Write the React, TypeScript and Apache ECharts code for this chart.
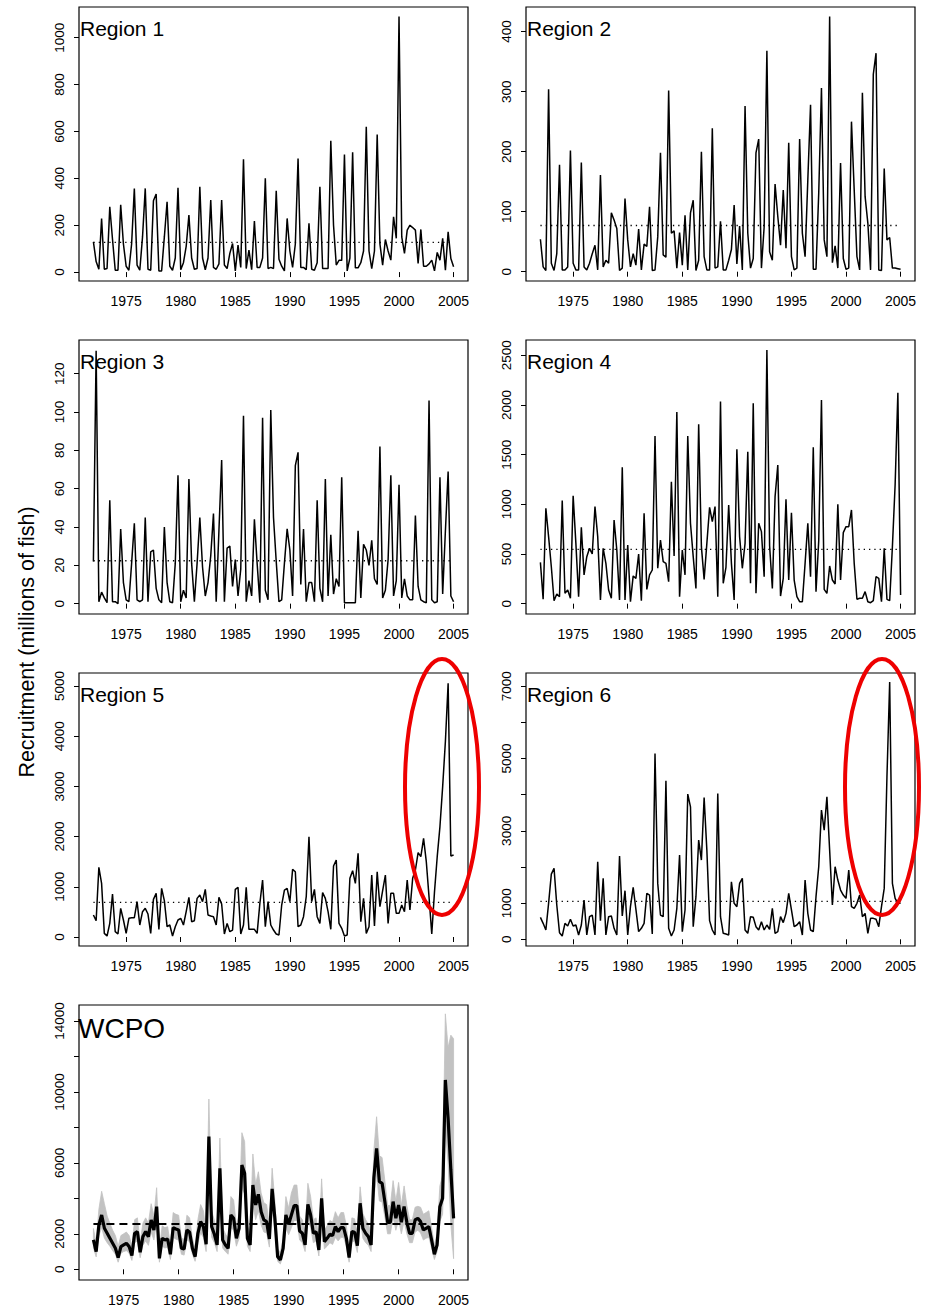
import React, { useEffect, useRef } from "react";
import * as echarts from "echarts";

// ---------- data ----------
const REGION_START = 1972.0; // first quarter of regional series
const WCPO_START = 1972.25; // first quarter of WCPO series
const QUARTER = 0.25;
const MEAN_START = 1972.0;
const MEAN_END = 2004.75;

const YEAR_TICKS = [1975, 1980, 1985, 1990, 1995, 2000, 2005];

const REGION1 = [129,45,12,229,12,15,279,140,8,8,287,120,25,8,120,356,30,8,150,357,12,8,304,333,5,5,150,300,25,8,60,360,10,40,110,243,60,12,15,364,60,10,60,307,20,12,35,307,30,15,80,122,5,115,20,481,15,94,10,218,20,20,60,400,15,20,15,347,55,25,5,229,90,20,120,485,20,20,10,208,12,8,40,364,15,15,15,560,200,30,50,50,502,5,60,511,18,18,40,90,620,90,15,90,587,120,30,139,90,51,236,144,1090,150,80,179,200,190,179,37,182,25,25,35,51,5,84,51,144,8,172,58,23];
const REGION2 = [54,8,2,304,14,2,30,178,3,3,8,202,14,3,3,182,8,3,14,30,44,3,161,8,19,14,98,86,72,2,6,122,53,8,30,11,71,3,46,42,108,2,3,58,198,28,24,302,64,68,6,65,11,94,3,98,119,2,19,200,25,3,3,239,6,8,84,3,3,19,37,111,13,76,3,276,64,6,22,198,221,6,75,368,33,19,146,92,44,136,39,215,25,3,6,221,64,25,153,278,4,4,131,306,53,25,425,15,43,6,181,22,4,6,250,136,25,3,298,125,81,3,329,364,3,2,172,53,57,6,6,5,4];
const REGION3 = [22,132,1,6,3,0.5,54,1,1,0,39,11,2,1,21,42,2,1,2,45,1,27,28,8,2,0.5,40,11,1,0.5,21,67,1,7,3,65,21,1,21,45,19,4,11,25,47,1,38,75,1,29,30,9,23,4,18,98,1,12,4,44,21,0.5,97,7,2,101,45,22,1,2,21,39,28,4,72,79,10,39,1,11,11,1,54,8,1,65,4,36,5,13,9,66,0.5,0.5,0.5,0.5,0.5,38,3,31,28,20,33,13,10,82,3,7,23,67,4,12,62,3,13,4,2,2,46,9,2,1,0.5,106,2,0.5,1,66,5,38,69,4,1];
const REGION4 = [416,44,960,675,372,30,97,70,1037,104,138,54,1087,607,70,768,289,473,557,500,977,675,37,557,406,138,54,842,540,37,1372,37,591,20,279,255,500,30,909,144,289,339,1688,356,641,423,406,221,1228,480,1930,70,540,289,1688,809,473,154,1805,574,245,607,970,826,977,70,2034,205,366,993,406,37,1554,675,356,607,1530,205,2017,104,809,725,272,2554,581,154,1077,1396,77,255,1050,238,916,238,70,20,20,406,809,272,1574,121,634,2050,144,104,379,238,198,1000,238,715,775,775,943,406,44,54,54,121,20,10,30,272,255,20,557,44,30,574,1200,2124,87];
const REGION5 = [438,325,1388,1069,73,20,272,857,106,60,571,339,73,372,385,385,704,239,505,571,458,73,750,870,153,969,724,206,239,20,206,339,372,239,505,790,305,325,770,837,704,950,438,418,405,239,790,657,60,272,106,139,950,989,60,239,989,153,153,153,73,671,1135,206,704,239,139,60,40,637,936,969,704,1348,1301,206,239,405,803,1999,704,950,405,272,883,770,505,153,1414,1534,272,173,20,40,1169,1321,1069,1667,305,770,73,206,1235,219,1301,604,923,1235,272,870,870,471,471,637,505,1135,538,1169,1335,1680,1600,1965,1500,800,60,900,1600,2200,3000,3900,5053,1614,1634];
const REGION6 = [608,442,258,995,1805,1962,949,184,92,442,368,553,368,396,120,396,1087,120,626,672,120,2146,516,1686,120,626,645,304,120,2303,645,1345,120,903,1437,829,212,304,442,1271,1225,147,5140,1547,672,626,4384,304,92,258,857,2330,212,811,4016,3666,350,1179,2745,2192,3924,2468,516,258,120,4034,626,166,147,120,1593,995,903,1547,1686,258,166,626,608,350,258,488,258,396,276,857,166,212,626,461,718,1271,811,350,396,488,120,1640,718,258,212,1179,2008,3574,3021,3942,2468,949,2008,1640,1363,1225,1133,1916,903,857,995,1225,626,718,166,580,580,553,350,903,1409,4495,7120,1547,1133,1000,995];

const WCPO = [1654,996,2500,3063,2312,2030,1748,1466,1184,658,1278,1372,1466,1278,771,2030,2124,958,1842,2124,1842,2781,2218,3533,620,1748,1654,1710,846,2349,2274,2218,1184,1146,2218,2086,1184,714,2030,2687,2406,1409,7480,2406,1973,1372,5694,1654,1372,1184,3063,2875,1748,2312,5882,5412,1748,1372,4755,3627,4229,3251,2781,2687,1710,4529,2875,714,526,1184,3063,2537,3063,3590,3590,2161,2030,1372,3665,3063,2030,2124,1090,4003,1560,1748,1973,1898,2406,2124,2349,2349,1748,658,2124,2086,1334,3721,2312,2030,1842,1372,5168,6822,4943,4849,3815,2650,2650,3815,2875,3627,2650,3533,2650,2030,2030,2781,2875,2687,2218,2312,2406,1654,846,1372,3533,4003,10675,8513,5600,2875];
const WCPO_UPPER = [2300,1500,3400,4400,3700,3000,2600,2200,1900,1300,1900,2000,2100,1900,1300,2800,2900,1500,2600,2900,2600,3700,3000,4600,1100,2450,2350,2400,1350,3200,3100,3050,1750,1700,3050,2900,1750,1150,2800,3650,3300,2050,9600,3300,2750,2000,7400,2350,2000,1750,4100,3900,2450,3150,7700,7200,2450,2000,6500,4800,5500,4300,3750,3650,2400,5700,3850,1150,950,1750,4100,3450,4300,4750,4750,3000,2800,2000,4850,4100,2800,2900,1650,5100,2200,2450,2750,2650,3250,2900,3200,3200,2450,1100,2900,2850,1950,4650,3150,2800,2550,2000,6700,8600,6400,6300,5000,3600,3600,5000,3850,4900,3600,4700,3600,2800,2800,3500,3550,3500,3100,3200,3300,2350,1350,2000,4700,5300,14400,12500,13200,13000];
const WCPO_LOWER = [1200,700,1900,2350,1750,1500,1300,1050,850,400,900,1000,1050,900,500,1500,1600,650,1350,1600,1350,2100,1650,2700,400,1300,1200,1250,550,1800,1700,1650,850,800,1650,1550,850,450,1500,2050,1800,1000,5900,1800,1500,1000,4450,1200,1000,850,2350,2200,1300,1750,4600,4250,1300,1000,3700,2800,3300,2500,2100,2050,1250,3500,2200,450,300,850,2350,1950,2350,2750,2750,1650,1500,1000,2850,2350,1500,1600,750,3100,1150,1300,1500,1400,1800,1600,1800,1800,1300,400,1600,1550,950,2900,1750,1500,1350,1000,4000,5350,3850,3800,2950,2000,2000,2950,2200,2800,2000,2700,2000,1500,1500,2100,2200,2050,1650,1750,1800,1200,550,1000,2700,3100,8000,6000,2500,600];

const MEANS = [127, 77, 22.4, 547, 690, 1050];
const WCPO_MEAN = 2550;

const REGION_NAMES = ["Region 1", "Region 2", "Region 3", "Region 4", "Region 5", "Region 6"];
const Y_TICKS = [
  [0, 200, 400, 600, 800, 1000],
  [0, 100, 200, 300, 400],
  [0, 20, 40, 60, 80, 100, 120],
  [0, 500, 1000, 1500, 2000, 2500],
  [0, 1000, 2000, 3000, 4000, 5000],
  [0, 1000, 2000, 3000, 4000, 5000, 6000, 7000],
];
const Y_LABELS = [
  [0, 200, 400, 600, 800, 1000],
  [0, 100, 200, 300, 400],
  [0, 20, 40, 60, 80, 100, 120],
  [0, 500, 1000, 1500, 2000, 2500],
  [0, 1000, 2000, 3000, 4000, 5000],
  [0, 1000, 3000, 5000, 7000],
];
const WCPO_Y_TICKS = [0, 2000, 4000, 6000, 8000, 10000, 12000, 14000];
const WCPO_Y_LABELS = [0, 2000, 6000, 10000, 14000];

// ---------- layout (pixels / axis extents) ----------
const GRIDS = [
  { left: 79, top: 7, width: 389, height: 274 },
  { left: 526, top: 7, width: 389, height: 274 },
  { left: 79, top: 340, width: 389, height: 274 },
  { left: 526, top: 340, width: 389, height: 274 },
  { left: 79, top: 673, width: 389, height: 273 },
  { left: 526, top: 673, width: 389, height: 273 },
  { left: 79, top: 1005, width: 389, height: 275 },
];
const Y_RANGES = [
  [-38, 1131],
  [-15.5, 441],
  [-5.4, 137.6],
  [-104, 2654],
  [-179, 5259],
  [-185, 7367],
  [-603, 14899],
];
const X_RANGE_REGION = [1970.68, 2006.32];
const X_RANGE_WCPO = [1970.94, 2006.31];

const FONT = '"Liberation Sans", Arial, Helvetica, sans-serif';

function toPoints(values: number[], start: number) {
  return values.map((v, i) => [start + i * QUARTER, v]);
}

function makeXAxis(k: number, range: number[]) {
  return {
    type: "value",
    gridIndex: k,
    min: range[0],
    max: range[1],
    axisLine: { show: false },
    splitLine: { show: false },
    axisTick: {
      show: true,
      length: 5,
      customValues: YEAR_TICKS,
      lineStyle: { color: "#000", width: 1 },
    },
    axisLabel: {
      show: true,
      customValues: YEAR_TICKS,
      margin: 13,
      fontSize: 14,
      fontFamily: FONT,
      color: "#000",
      formatter: (v: number) => String(Math.round(v)),
    },
  };
}

function makeYAxis(k: number, ticks: number[], labels: number[]) {
  return {
    type: "value",
    gridIndex: k,
    min: Y_RANGES[k][0],
    max: Y_RANGES[k][1],
    axisLine: { show: false },
    splitLine: { show: false },
    axisTick: {
      show: true,
      length: 5,
      customValues: ticks,
      lineStyle: { color: "#000", width: 1 },
    },
    axisLabel: {
      show: true,
      customValues: labels,
      rotate: 90,
      margin: 13,
      fontSize: 13.5,
      fontFamily: FONT,
      color: "#000",
      formatter: (v: number) => String(Math.round(v)),
    },
  };
}

function buildOption() {
  const grid = GRIDS.map((g) => ({
    ...g,
    show: true,
    borderColor: "#000",
    borderWidth: 1.2,
    backgroundColor: "transparent",
    containLabel: false,
    outerBoundsMode: "none",
  }));

  const xAxis: any[] = [];
  const yAxis: any[] = [];
  const series: any[] = [];
  const regions = [REGION1, REGION2, REGION3, REGION4, REGION5, REGION6];

  regions.forEach((vals, k) => {
    xAxis.push(makeXAxis(k, X_RANGE_REGION));
    yAxis.push(makeYAxis(k, Y_TICKS[k], Y_LABELS[k]));
    series.push({
      type: "line",
      name: REGION_NAMES[k],
      xAxisIndex: k,
      yAxisIndex: k,
      data: toPoints(vals, REGION_START),
      symbol: "none",
      silent: true,
      lineStyle: { color: "#000", width: 1.5 },
    });
    series.push({
      type: "line",
      xAxisIndex: k,
      yAxisIndex: k,
      data: [
        [MEAN_START, MEANS[k]],
        [MEAN_END, MEANS[k]],
      ],
      symbol: "none",
      silent: true,
      lineStyle: { color: "#000", width: 1.3, type: [1.3, 4] },
    });
  });

  const w = 6;
  xAxis.push(makeXAxis(w, X_RANGE_WCPO));
  yAxis.push(makeYAxis(w, WCPO_Y_TICKS, WCPO_Y_LABELS));

  const upperPts = toPoints(WCPO_UPPER, WCPO_START);
  const lowerPts = toPoints(WCPO_LOWER, WCPO_START);
  series.push({
    type: "custom",
    xAxisIndex: w,
    yAxisIndex: w,
    silent: true,
    clip: true,
    data: [[1990, 5000]],
    encode: { x: 0, y: 1 },
    renderItem: (_params: any, api: any) => {
      const pts: number[][] = [];
      upperPts.forEach((p) => pts.push(api.coord(p)));
      for (let i = lowerPts.length - 1; i >= 0; i--) pts.push(api.coord(lowerPts[i]));
      return {
        type: "polygon",
        shape: { points: pts },
        style: { fill: "#c2c2c2", stroke: "#c2c2c2", lineWidth: 0.8 },
      };
    },
  });
  series.push({
    type: "line",
    xAxisIndex: w,
    yAxisIndex: w,
    data: [
      [WCPO_START, WCPO_MEAN],
      [WCPO_START + (WCPO.length - 1) * QUARTER, WCPO_MEAN],
    ],
    symbol: "none",
    silent: true,
    lineStyle: { color: "#000", width: 2, type: [8, 5] },
  });
  series.push({
    type: "line",
    name: "WCPO",
    xAxisIndex: w,
    yAxisIndex: w,
    data: toPoints(WCPO, WCPO_START),
    symbol: "none",
    silent: true,
    lineStyle: { color: "#000", width: 3.2 },
  });

  const labelPos = [
    [80, 28],
    [527, 28],
    [80, 361],
    [527, 361],
    [80, 694],
    [527, 694],
  ];
  const elements: any[] = REGION_NAMES.map((name, k) => ({
    type: "text",
    x: labelPos[k][0],
    y: labelPos[k][1],
    silent: true,
    style: {
      text: name,
      font: `21px ${FONT}`,
      fill: "#000",
      align: "left",
      verticalAlign: "middle",
    },
  }));
  elements.push({
    type: "text",
    x: 78,
    y: 1028,
    silent: true,
    style: {
      text: "WCPO",
      font: `28px ${FONT}`,
      fill: "#000",
      align: "left",
      verticalAlign: "middle",
    },
  });
  elements.push({
    type: "text",
    x: 27,
    y: 642,
    rotation: Math.PI / 2,
    silent: true,
    style: {
      text: "Recruitment (millions of fish)",
      font: `21.5px ${FONT}`,
      fill: "#000",
      align: "center",
      verticalAlign: "middle",
    },
  });
  elements.push({
    type: "ellipse",
    silent: true,
    z: 100,
    shape: { cx: 442, cy: 787, rx: 37, ry: 128 },
    style: { fill: "none", stroke: "#ee0000", lineWidth: 4 },
  });
  elements.push({
    type: "ellipse",
    silent: true,
    z: 100,
    shape: { cx: 882, cy: 787, rx: 37, ry: 128 },
    style: { fill: "none", stroke: "#ee0000", lineWidth: 4 },
  });

  return {
    animation: false,
    backgroundColor: "#ffffff",
    textStyle: { fontFamily: FONT },
    grid,
    xAxis,
    yAxis,
    series,
    graphic: { elements },
  };
}

export default function App() {
  const ref = useRef<HTMLDivElement | null>(null);
  useEffect(() => {
    document.body.style.margin = "0";
    if (!ref.current) return;
    const chart = echarts.init(ref.current, null, { renderer: "svg" });
    chart.setOption(buildOption() as any);
    return () => {
      chart.dispose();
    };
  }, []);
  return <div ref={ref} style={{ width: 926, height: 1308 }} />;
}
